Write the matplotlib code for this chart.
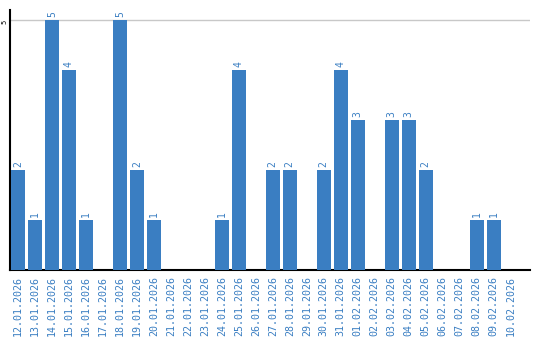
import matplotlib
matplotlib.use("Agg")
import matplotlib.pyplot as plt

dates = ["12.01.2026", "13.01.2026", "14.01.2026", "15.01.2026", "16.01.2026",
         "17.01.2026", "18.01.2026", "19.01.2026", "20.01.2026", "21.01.2026",
         "22.01.2026", "23.01.2026", "24.01.2026", "25.01.2026", "26.01.2026",
         "27.01.2026", "28.01.2026", "29.01.2026", "30.01.2026", "31.01.2026",
         "01.02.2026", "02.02.2026", "03.02.2026", "04.02.2026", "05.02.2026",
         "06.02.2026", "07.02.2026", "08.02.2026", "09.02.2026", "10.02.2026"]
counts = [2, 1, 5, 4, 1, 0, 5, 2, 1, 0,
          0, 0, 1, 4, 0, 2, 2, 0, 2, 4,
          3, 0, 3, 3, 2, 0, 0, 1, 1, 0]
y_ticks = [5]

blue = "#3a7ec2"
mono = "DejaVu Sans Mono"

fig = plt.figure(figsize=(5.4, 3.4), dpi=100)
ax = fig.add_axes([10/540, 1 - 270/340, 520/540, 260/340])

x = list(range(len(dates)))
ax.bar(x, counts, width=0.83, color=blue, zorder=3)

# value labels above non-empty bars
for xi, v in zip(x, counts):
    if v > 0:
        ax.text(xi, v + 0.06, str(v), rotation=90, ha="center", va="bottom",
                color=blue, fontsize=7, family=mono)

ax.set_xlim(-0.46, 30.13)
ax.set_ylim(0, 5.2)
ax.set_xticks(x)
ax.set_xticklabels(dates, rotation=90, color=blue, fontsize=7.2, family=mono)
ax.set_yticks(y_ticks)
ax.set_yticklabels([str(t) for t in y_ticks], rotation=90, fontsize=5,
                   family=mono, va="top", ha="right")
ax.tick_params(axis="both", length=0)
ax.tick_params(axis="x", pad=4)
ax.tick_params(axis="y", pad=2)
ax.yaxis.grid(True, color="#c8c8c8", linewidth=1, zorder=0)

for side in ["top", "right"]:
    ax.spines[side].set_visible(False)
ax.spines["left"].set_linewidth(1.5)
ax.spines["bottom"].set_linewidth(1.5)

fig.savefig("out.png", dpi=100)
